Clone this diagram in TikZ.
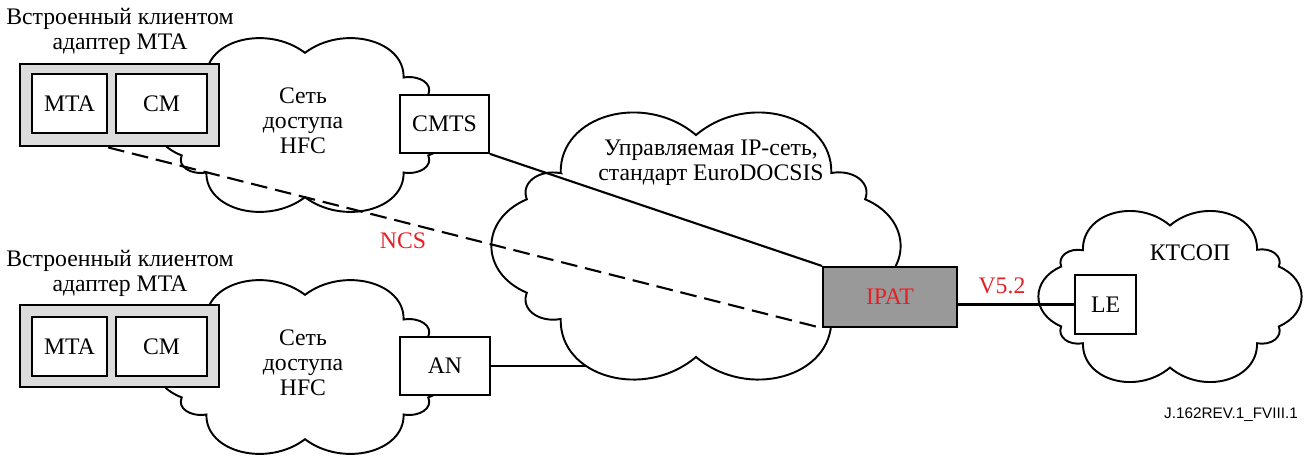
\documentclass[tikz,border=0pt]{standalone}
\usepackage{fontspec}
\setmainfont{Liberation Serif}
\newfontfamily\tagfont{Liberation Sans}
\usetikzlibrary{positioning}
\definecolor{ncsred}{RGB}{228,32,38}
\definecolor{cpegray}{RGB}{220,220,220}
\definecolor{ipatgray}{RGB}{153,153,153}
\tikzset{
  cloudline/.style={draw=black,fill=white,line width=1.1pt},
  pics/netcloud/.style={code={
    \filldraw[cloudline] (-0.68,0.5) to[bend right=70,looseness=1.4] (0,0.76)
      to[bend right=70,looseness=1.4] (0.68,0.5) to[bend right=60,looseness=1.2] (0.85,0.32)
      to[bend right=60,looseness=1.1] (0.85,-0.32) to[bend right=60,looseness=1.2] (0.68,-0.5)
      to[bend right=70,looseness=1.4] (0,-0.76) to[bend right=70,looseness=1.4] (-0.68,-0.5)
      to[bend right=60,looseness=1.2] (-0.85,-0.32) to[bend right=60,looseness=1.1] (-0.85,0.32)
      to[bend right=60,looseness=1.2] cycle;
  }}
}
\begin{document}
\begin{tikzpicture}[x=0.02cm,y=-0.02cm,
    font=\fontsize{13.5}{14.2}\selectfont,
    box/.style={draw,fill=white,line width=1pt,inner sep=0pt},
    cpebox/.style={draw,fill=cpegray,line width=1.6pt,minimum width=3.98cm,minimum height=1.64cm},
    unitbox/.style={draw,fill=white,line width=1.2pt,minimum height=1.18cm},
    lbl/.style={align=center,inner sep=0pt},
    redlbl/.style={text=ncsred,inner sep=0pt},
    link/.style={line width=1.2pt},
    ncsline/.style={line width=1.2pt,dashed,dash pattern=on 9.5pt off 4.5pt}]
  \useasboundingbox (0,0) rectangle (1306,461);
  \pic at (305,125) [xscale=145,yscale=-95] {netcloud};
  \pic at (305,367) [xscale=145,yscale=-95] {netcloud};
  \pic at (1170,296.5) [xscale=128,yscale=-93.5] {netcloud};
  \node[cpebox] (cpe1) at (119.5,105) {};
  \node[unitbox,minimum width=1.5cm] (mta1) at (69.5,103.5) {MTA};
  \node[unitbox,minimum width=1.82cm] (cm1) at (161.5,103.5) {CM};
  \node[cpebox] (cpe2) at (119.5,346) {};
  \node[unitbox,minimum width=1.5cm] (mta2) at (69.5,346.5) {MTA};
  \node[unitbox,minimum width=1.82cm] (cm2) at (161.5,346.5) {CM};
  \node[box,minimum width=1.78cm,minimum height=1.16cm] (cmts) at (444.5,124) {CMTS};
  \node[box,minimum width=1.8cm,minimum height=1.16cm] (an) at (445,366) {AN};
  \node[box,minimum width=1.22cm,minimum height=1.18cm] (le) at (1105.5,304.5) {LE};
  \coordinate (ipcore) at (630,300);
  \draw[link] (an.east) -- (an.east -| ipcore);
  \pic at (696,246) [xscale=199,yscale=-146] {netcloud};
  \node[draw,fill=ipatgray,line width=1.2pt,minimum width=2.68cm,minimum height=1.2cm,text=ncsred] (ipat) at (890,297) {IPAT};
  \draw[link] (cmts.south east) -- (ipat.north west);
  \draw[ncsline] (mta1.east |- cpe1.south) -- (ipat.south west);
  \draw[link] (le.west) -- (le.west -| ipat.east);
  \node[lbl] (cap1) at (120,31) {Встроенный клиентом\\адаптер MTA};
  \node[lbl] (cap2) at (120,273) {Встроенный клиентом\\адаптер MTA};
  \node[lbl] (hfc1) at (303,121) {Сеть\\доступа\\HFC};
  \node[lbl] (hfc2) at (303,363) {Сеть\\доступа\\HFC};
  \node[lbl] (ipnet) at (711,163) {Управляемая IP-сеть,\\стандарт EuroDOCSIS};
  \node[lbl] (pstn) at (1190,253) {КТСОП};
  \node[redlbl] (ncs) at (403,241) {NCS};
  \node[redlbl] (v52) at (1002,286) {V5.2};
  \node[inner sep=0pt,font=\tagfont\fontsize{8.7}{10}\selectfont] (fig) at (1231,415) {J.162REV.1\_FVIII.1};
\end{tikzpicture}
\end{document}
